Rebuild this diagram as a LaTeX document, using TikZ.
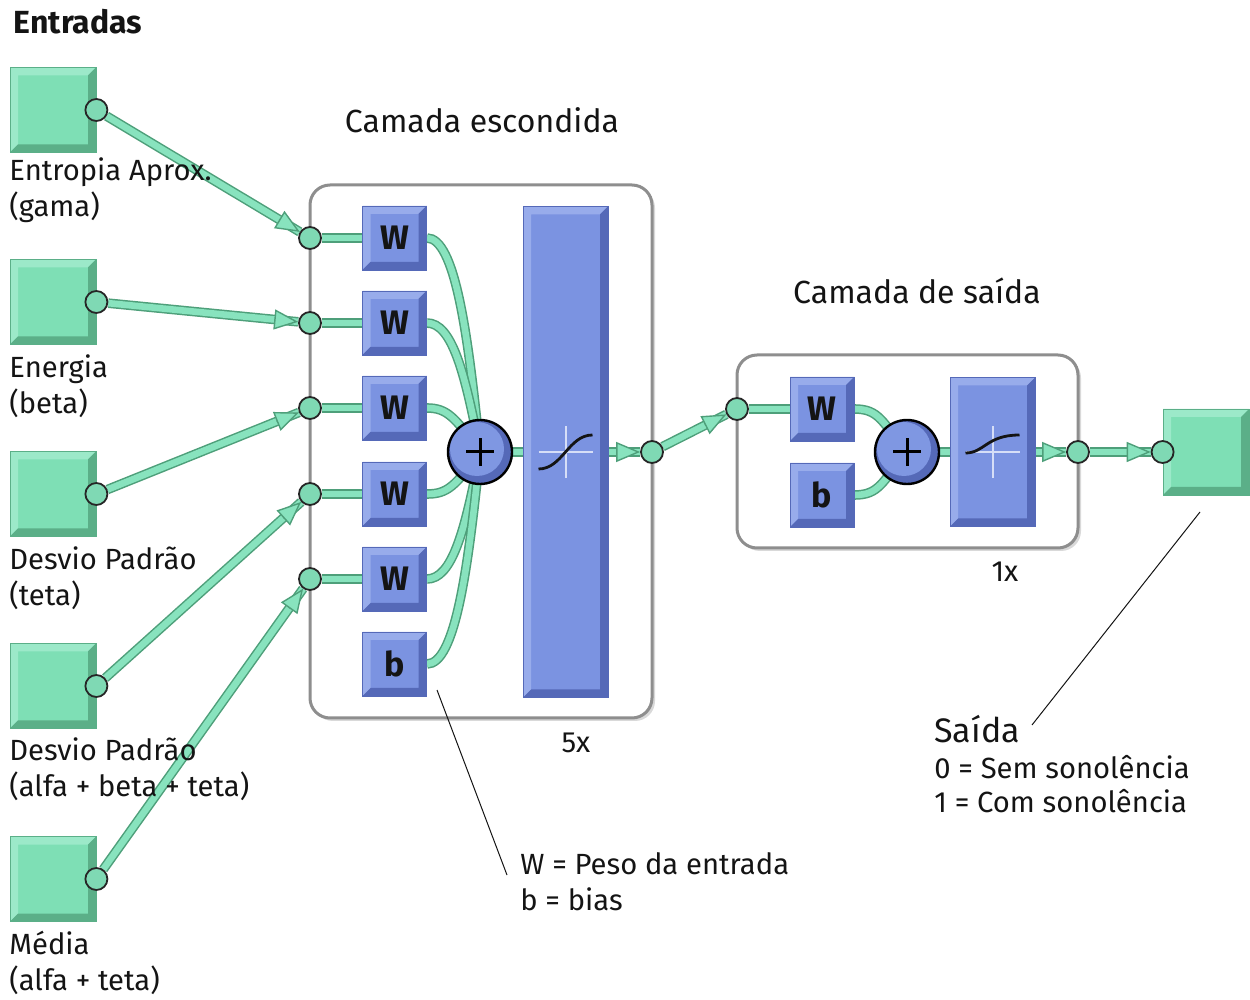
\documentclass[tikz,border=0pt]{standalone}
\usepackage{fontspec}
\setmainfont{Fira Sans}
\usetikzlibrary{arrows.meta, positioning, calc, shadows}

\definecolor{inface}{HTML}{7EDFB5}
\definecolor{inlight}{HTML}{9CE9C9}
\definecolor{indark}{HTML}{5BAF88}
\definecolor{wireedge}{HTML}{4E9F7A}
\definecolor{wirefill}{HTML}{88E3BE}
\definecolor{blface}{HTML}{7B93E1}
\definecolor{bllight}{HTML}{98ACEB}
\definecolor{bldark}{HTML}{5569B8}
\definecolor{framegray}{HTML}{8E8E8E}
\definecolor{txt}{HTML}{141414}

\pgfdeclarelayer{bg}
\pgfdeclarelayer{wires}
\pgfsetlayers{bg,wires,main}

% bevelled face for the boxes
\newcommand\bevelfill[2]{%
  \fill[#1] (path picture bounding box.south west) -- (path picture bounding box.north west)
    -- (path picture bounding box.north east) -- ([shift={(-4pt,-4pt)}]path picture bounding box.north east)
    -- ([shift={(4pt,-4pt)}]path picture bounding box.north west) -- ([shift={(4pt,4pt)}]path picture bounding box.south west) -- cycle;
  \fill[#2] (path picture bounding box.south west) -- (path picture bounding box.south east)
    -- (path picture bounding box.north east) -- ([shift={(-4pt,-4pt)}]path picture bounding box.north east)
    -- ([shift={(-4pt,4pt)}]path picture bounding box.south east) -- ([shift={(4pt,4pt)}]path picture bounding box.south west) -- cycle;}

% transfer function marks
\newcommand\tansigmark{%
  \begin{scope}[shift={(path picture bounding box.center)}]
    \draw[crossline] (-27,0) -- (27,0) (0,-26) -- (0,26);
    \draw[line width=1.4pt, txt] (-27,17) .. controls (-3,17) and (3,-17) .. (27,-17);
  \end{scope}}
\newcommand\logsigmark{%
  \begin{scope}[shift={(path picture bounding box.center)}]
    \draw[crossline] (-27,0) -- (27,0) (0,-26) -- (0,26);
    \draw[line width=1.4pt, txt] (-27,1) .. controls (-8,1) and (-6,-17) .. (27,-17);
  \end{scope}}

\newcommand\tipto[2]{\draw[tip] ($(#2.center)!18pt!(#1.center)$) -- (#2);}

\begin{document}
\begin{tikzpicture}[
    x=0.5pt, y=-0.5pt,
    every node/.style={text=txt},
    lbl/.style={inner sep=0pt, align=left, font=\fontsize{14.6}{18}\selectfont},
    title/.style={inner sep=0pt, font=\fontsize{16}{18}\selectfont},
    insq/.style={rectangle, minimum width=43pt, minimum height=42.5pt, inner sep=0pt,
      fill=inface, draw=indark, line width=0.4pt, path picture={\bevelfill{inlight}{indark}}},
    wbox/.style={rectangle, minimum size=32pt, inner sep=0pt, fill=blface, draw=bldark, line width=0.4pt,
      font=\fontsize{17}{17}\selectfont\bfseries, path picture={\bevelfill{bllight}{bldark}}},
    tansig/.style={rectangle, minimum width=42.5pt, minimum height=245.5pt, inner sep=0pt, fill=blface,
      draw=bldark, line width=0.4pt, path picture={\bevelfill{bllight}{bldark}\tansigmark}},
    logsig/.style={rectangle, minimum width=42.5pt, minimum height=74.5pt, inner sep=0pt, fill=blface,
      draw=bldark, line width=0.4pt, path picture={\bevelfill{bllight}{bldark}\logsigmark}},
    crossline/.style={draw=bllight!40!white, line width=1pt},
    sum/.style={circle, minimum size=32pt, inner sep=0pt, draw=black, line width=1.2pt, fill=bldark,
      path picture={
        \fill[blface!85!bllight] ([shift={(-1.5pt,1.5pt)}]path picture bounding box.center) circle (13.5pt);
        \draw[line width=1.5pt, black] ([xshift=-7pt]path picture bounding box.center) -- ([xshift=7pt]path picture bounding box.center)
          ([yshift=-7pt]path picture bounding box.center) -- ([yshift=7pt]path picture bounding box.center);}},
    port/.style={circle, minimum size=11pt, inner sep=0pt, draw=black!85, line width=0.9pt, fill=wirefill!85!wireedge},
    frame/.style={rectangle, rounded corners=10pt, draw=framegray, line width=1.5pt, fill=white,
      drop shadow={shadow xshift=1.5pt, shadow yshift=-1.5pt, opacity=.3}},
    wire/.style={draw=wirefill, line width=3.3pt, preaction={draw=wireedge, line width=4.8pt}},
    tip/.style={draw=wireedge, line width=0.7pt, -{Triangle[length=12pt, width=10pt, fill=wirefill]}},
    note/.style={draw=txt, line width=0.5pt}
  ]
  \useasboundingbox (0,0) rectangle (1250,1000);

  % frames
  \begin{pgfonlayer}{bg}
    \node[frame, minimum width=171pt, minimum height=266.5pt] (hid) at (481,451.5) {};
    \node[frame, minimum width=170.5pt, minimum height=96.5pt] (outl) at (907.5,451.5) {};
  \end{pgfonlayer}

  % inputs
  \node[lbl, font=\fontsize{16}{18}\selectfont\bfseries] (ent) at (78,22) {Entradas};
  \node[insq] (in1) at (53,110) {};
  \node[insq] (in2) at (53,302) {};
  \node[insq] (in3) at (53,494) {};
  \node[insq] (in4) at (53,686) {};
  \node[insq] (in5) at (53,879) {};
  \node[port] (p1) at (in1.east) {};
  \node[port] (p2) at (in2.east) {};
  \node[port] (p3) at (in3.east) {};
  \node[port] (p4) at (in4.east) {};
  \node[port] (p5) at (in5.east) {};
  \node[lbl, anchor=west] (l1) at (9,190.5) {Entropia Aprox.\\(gama)};
  \node[lbl, anchor=west] (l2) at (9,386) {Energia\\(beta)};
  \node[lbl, anchor=west] (l3) at (9,578.5) {Desvio Padrão\\(teta)};
  \node[lbl, anchor=west] (l4) at (9,769) {Desvio Padrão\\(alfa + beta + teta)};
  \node[lbl, anchor=west] (l5) at (9,963) {Média\\(alfa + teta)};

  % hidden layer
  \node[title] (tithid) at (482,120) {Camada escondida};
  \node[port] (h1) at (310,238) {};
  \node[port] (h2) at (310,323) {};
  \node[port] (h3) at (310,408) {};
  \node[port] (h4) at (310,494) {};
  \node[port] (h5) at (310,579) {};
  \node[wbox] (w1) at (394.5,238) {W};
  \node[wbox] (w2) at (394.5,323) {W};
  \node[wbox] (w3) at (394.5,408) {W};
  \node[wbox] (w4) at (394.5,494) {W};
  \node[wbox] (w5) at (394.5,579) {W};
  \node[wbox] (b1) at (394.5,664) {b};
  \node[sum] (s1) at (480,452) {};
  \node[tansig] (t1) at (565.5,452) {};
  \node[port] (o1) at (652,452) {};
  \node[lbl] (n5) at (576,743) {5x};

  % output layer
  \node[title] (titout) at (917,291) {Camada de saída};
  \node[port] (hp) at (737,409) {};
  \node[wbox] (w6) at (822,409) {W};
  \node[wbox] (b2) at (822,495) {b};
  \node[sum] (s2) at (907,452) {};
  \node[logsig] (t2) at (992.5,452) {};
  \node[port] (o2) at (1078,452) {};
  \node[lbl] (n1) at (1005,572) {1x};
  \node[insq, minimum height=43pt] (out) at (1206,452) {};
  \node[port] (op) at (out.west) {};

  % notes
  \node[lbl, anchor=west] (leg) at (520,882) {W = Peso da entrada\\b = bias};
  \node[lbl, anchor=west, font=\fontsize{17}{18}\selectfont] (sai) at (934,729) {Saída};
  \node[lbl, anchor=west, font=\fontsize{14.6}{17}\selectfont] (leg2) at (934,784) {0 = Sem sonolência\\1 = Com sonolência};
  \coordinate (na) at (437,690);
  \coordinate (nb) at (507,875);
  \coordinate (nc) at (1200,512);
  \coordinate (nd) at (1032,725);
  \draw[note] (na) -- (nb);
  \draw[note] (nc) -- (nd);

  % connections
  \begin{pgfonlayer}{wires}
    \draw[wire] (p1) -- (h1);
    \draw[wire] (p2) -- (h2);
    \draw[wire] (p3) -- (h3);
    \draw[wire] (p4) -- (h4);
    \draw[wire] (p5) -- (h5);
    \tipto{p1}{h1}
    \tipto{p2}{h2}
    \tipto{p3}{h3}
    \tipto{p4}{h4}
    \tipto{p5}{h5}
    \draw[wire] (h1) -- (w1);
    \draw[wire] (h2) -- (w2);
    \draw[wire] (h3) -- (w3);
    \draw[wire] (h4) -- (w4);
    \draw[wire] (h5) -- (w5);
    \draw[wire] (w1.east) .. controls +(28,0) and +(-12,-120) .. (s1.center);
    \draw[wire] (w2.east) .. controls +(25,0) and +(-15,-80) .. (s1.center);
    \draw[wire] (w3.east) .. controls +(20,0) and +(-25,-35) .. (s1.center);
    \draw[wire] (w4.east) .. controls +(20,0) and +(-25,35) .. (s1.center);
    \draw[wire] (w5.east) .. controls +(25,0) and +(-15,80) .. (s1.center);
    \draw[wire] (b1.east) .. controls +(28,0) and +(-12,120) .. (s1.center);
    \draw[wire] (s1) -- (t1);
    \draw[wire] (t1) -- (o1);
    \tipto{t1}{o1}
    \draw[wire] (o1) -- (hp);
    \tipto{o1}{hp}
    \draw[wire] (hp) -- (w6);
    \draw[wire] (w6.east) .. controls +(25,0) and +(-25,-30) .. (s2.center);
    \draw[wire] (b2.east) .. controls +(25,0) and +(-25,30) .. (s2.center);
    \draw[wire] (s2) -- (t2);
    \draw[wire] (t2) -- (o2);
    \tipto{t2}{o2}
    \draw[wire] (o2) -- (op);
    \tipto{o2}{op}
  \end{pgfonlayer}
\end{tikzpicture}
\end{document}
